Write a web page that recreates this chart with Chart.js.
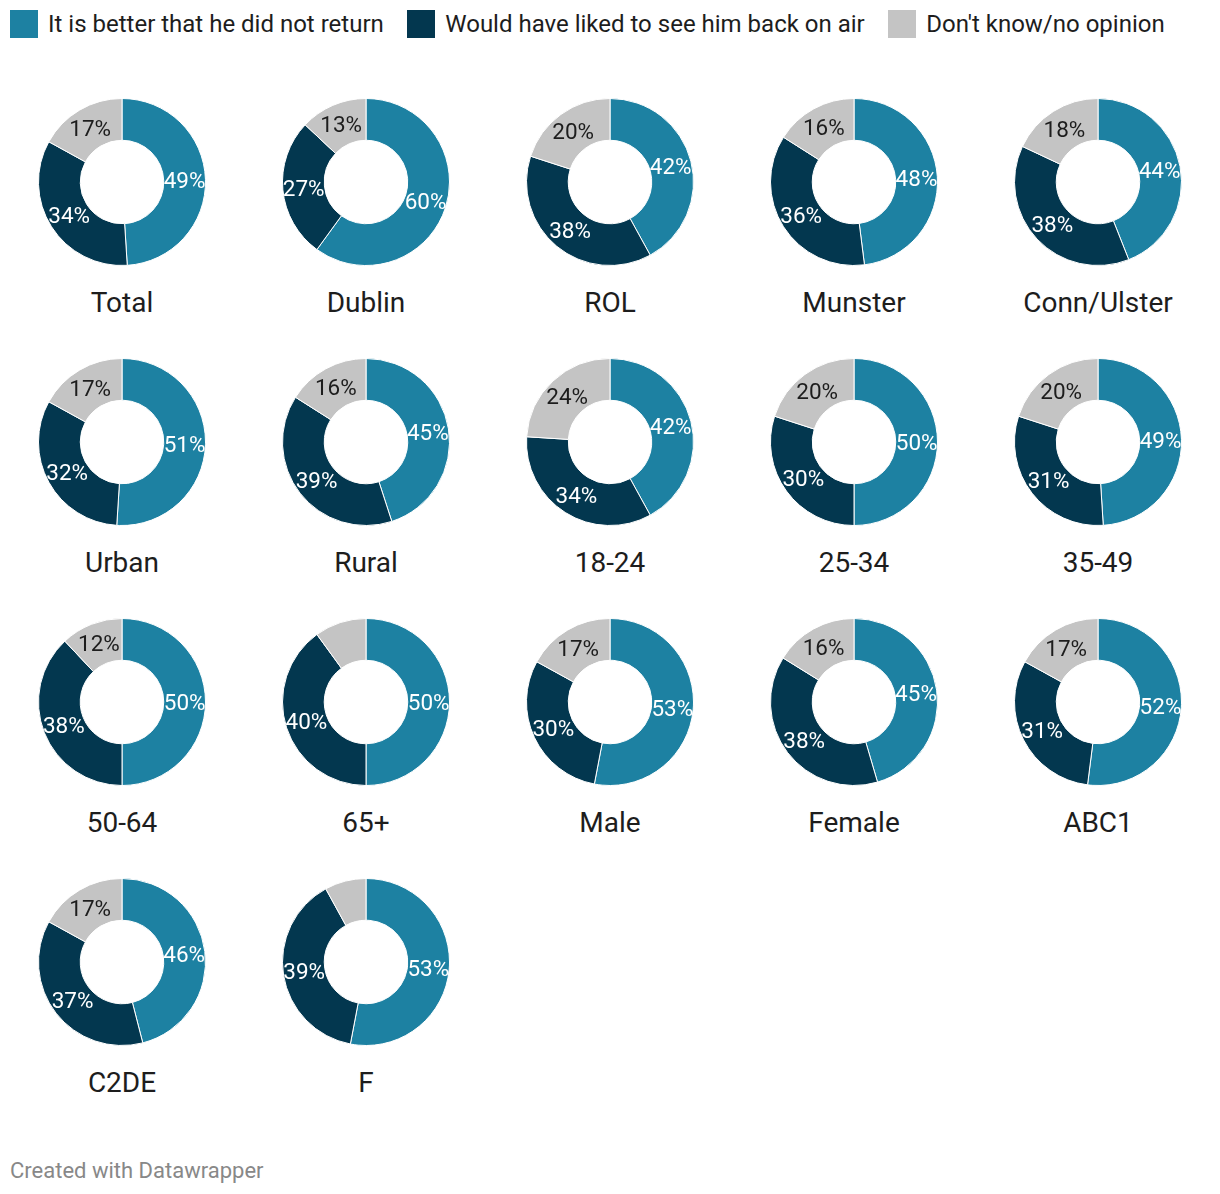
<!DOCTYPE html>
<html>
<head>
<meta charset="utf-8">
<script src="https://cdn.jsdelivr.net/npm/chart.js@4"></script>
<style>
  html, body { margin: 0; padding: 0; background: #fff; }
  body { width: 1220px; height: 1194px; position: relative; font-family: Roboto, "Noto Sans", sans-serif; color: #1d1d1d; overflow: hidden; }
  .legend { position: absolute; top: 10px; left: 10px; display: flex; align-items: center; font-size: 24px; white-space: nowrap; }
  .legend .item { display: flex; align-items: center; margin-right: 23.5px; }
  .legend .sw { width: 28px; height: 28px; margin-right: 10px; }
  .cell { position: absolute; width: 200px; height: 200px; }
  .cat { position: absolute; width: 244px; text-align: center; font-size: 28px; line-height: 30px; color: #1d1d1d; }
  .footer { position: absolute; left: 10px; top: 1158px; font-size: 22px; color: #888; }
</style>
</head>
<body>
<div class="legend" id="legend"></div>
<div id="grid"></div>
<div class="footer">Created with Datawrapper</div>
<script>
const seriesNames = ["It is better that he did not return", "Would have liked to see him back on air", "Don't know/no opinion"];
const seriesColors = ["#1d81a2", "#03374f", "#c4c4c4"];
const labelColors = ["#ffffff", "#ffffff", "#1d1d1d"];

const categories = ["Total", "Dublin", "ROL", "Munster", "Conn/Ulster",
  "Urban", "Rural", "18-24", "25-34", "35-49",
  "50-64", "65+", "Male", "Female", "ABC1",
  "C2DE", "F"];
const better     = [49, 60, 42, 48, 44, 51, 45, 42, 50, 49, 50, 50, 53, 45, 52, 46, 53];
const backOnAir  = [34, 27, 38, 36, 38, 32, 39, 34, 30, 31, 38, 40, 30, 38, 31, 37, 39];
const dontKnow   = [17, 13, 20, 16, 18, 17, 16, 24, 20, 20, 12, 10, 17, 16, 17, 17, 8];

// legend
const legend = document.getElementById('legend');
seriesNames.forEach((n, i) => {
  const it = document.createElement('div'); it.className = 'item';
  const sw = document.createElement('div'); sw.className = 'sw'; sw.style.background = seriesColors[i];
  const tx = document.createElement('span'); tx.textContent = n;
  it.appendChild(sw); it.appendChild(tx); legend.appendChild(it);
});

const labelPlugin = {
  id: 'sliceLabels',
  afterDatasetsDraw(chart) {
    const ctx = chart.ctx;
    const ds = chart.data.datasets[0];
    const meta = chart.getDatasetMeta(0);
    ctx.save();
    ctx.font = '22.5px Roboto, "Noto Sans", sans-serif';
    ctx.textAlign = 'center';
    ctx.textBaseline = 'middle';
    meta.data.forEach((arc, i) => {
      const v = ds.data[i];
      if (v < 11) return;
      const p = arc.tooltipPosition();
      ctx.fillStyle = labelColors[i];
      ctx.fillText(v + '%', p.x, p.y + 2);
    });
    ctx.restore();
  }
};

const grid = document.getElementById('grid');
const colX0 = 122, colStep = 244, rowY0 = 182, rowStep = 260;
categories.forEach((cat, k) => {
  const col = k % 5, row = Math.floor(k / 5);
  const cx = colX0 + col * colStep, cy = rowY0 + row * rowStep;
  const cell = document.createElement('div'); cell.className = 'cell';
  cell.style.left = (cx - 100) + 'px'; cell.style.top = (cy - 100) + 'px';
  const cv = document.createElement('canvas'); cv.width = 200; cv.height = 200;
  cell.appendChild(cv); grid.appendChild(cell);
  const lab = document.createElement('div'); lab.className = 'cat';
  lab.style.left = (cx - 122) + 'px'; lab.style.top = (cy + 106) + 'px';
  lab.textContent = cat; grid.appendChild(lab);
  new Chart(cv, {
    type: 'doughnut',
    data: {
      labels: seriesNames,
      datasets: [{
        data: [better[k], backOnAir[k], dontKnow[k]],
        backgroundColor: seriesColors,
        borderColor: '#ffffff',
        borderWidth: 1
      }]
    },
    options: {
      responsive: false,
      animation: false,
      cutout: '50%',
      layout: { padding: 16 },
      plugins: { legend: { display: false }, tooltip: { enabled: false } }
    },
    plugins: [labelPlugin]
  });
});
</script>
</body>
</html>
